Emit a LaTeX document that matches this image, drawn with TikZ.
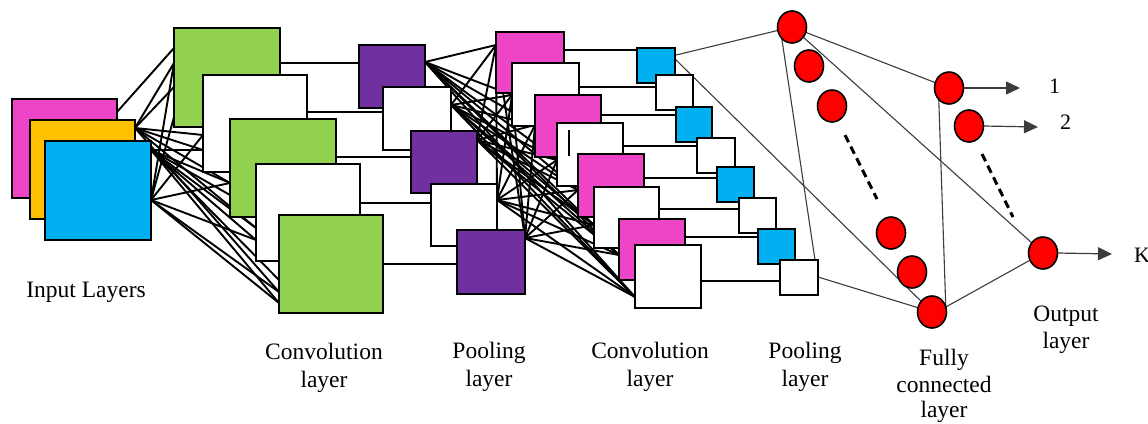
\documentclass[tikz,border=0pt]{standalone}
\usepackage{fontspec}
\setmainfont{Liberation Serif}
\usetikzlibrary{shapes.geometric,arrows.meta,calc}
\pgfdeclarelayer{background}
\pgfsetlayers{background,main}
\definecolor{cmag}{RGB}{238,68,200}
\definecolor{corange}{RGB}{255,192,0}
\definecolor{cblue}{RGB}{0,176,240}
\definecolor{cgreen}{RGB}{146,208,80}
\definecolor{cpurple}{RGB}{112,48,160}
\definecolor{cred}{RGB}{255,0,0}
\definecolor{cthin}{RGB}{60,60,60}
\newcommand\bx[6]{\node[boxst,fill=#2,minimum width={(#5-#3)*1pt},minimum height={(#6-#4)*1pt}] (#1) at ({(#3+#5)/2},{(#4+#6)/2}) {};}
\tikzset{
  boxst/.style={draw=black,line width=2pt,inner sep=0pt,outer sep=0pt},
  neuron/.style={ellipse,draw=black,line width=1.6pt,fill=cred,minimum width=29pt,minimum height=32pt,inner sep=0pt,outer sep=0pt},
  dense/.style={line width=1.9pt,black},
  hlink/.style={line width=2pt,black},
  thinl/.style={line width=1.1pt,cthin},
  dots/.style={line width=3pt,dash pattern=on 8pt off 5pt},
  arr/.style={line width=1.2pt,cthin,-{Triangle[length=14pt,width=13pt]}},
  lbl/.style={font=\fontsize{23.5}{28}\selectfont,anchor=base,inner sep=0pt},
  num/.style={font=\fontsize{22}{26}\selectfont,anchor=base west,inner sep=0pt}
}
\begin{document}
\begin{tikzpicture}[x=1pt,y=-1pt]
\useasboundingbox (0,0) rectangle (1148,423);
% input layers
\bx{imag}{cmag}{12}{99}{117}{198}
\bx{iorg}{corange}{30}{120}{135}{219}
\bx{iblu}{cblue}{45}{141}{151}{240}
% convolution layer 1
\bx{g1}{cgreen}{174}{28}{280}{127}
\bx{w1}{white}{203}{75}{307}{172}
\bx{g2}{cgreen}{230}{119}{336}{217}
\bx{w2}{white}{256}{164}{360}{261}
\bx{g3}{cgreen}{279}{215}{383}{313}
% pooling layer 1
\bx{p1}{cpurple}{359}{45}{425}{108}
\bx{pw1}{white}{383}{87}{451}{150}
\bx{p2}{cpurple}{411}{131}{477}{193}
\bx{pw2}{white}{431}{184}{497}{246}
\bx{p3}{cpurple}{457}{230}{525}{294}
% convolution layer 2
\bx{m1}{cmag}{496}{32}{564}{93}
\bx{cw1}{white}{512}{63}{579}{126}
\bx{m2}{cmag}{535}{95}{601}{157}
\bx{cw2}{white}{557}{123}{623}{186}
\bx{m3}{cmag}{578}{154}{644}{217}
\bx{cw3}{white}{594}{187}{659}{248}
\bx{m4}{cmag}{619}{219}{685}{280}
\bx{cw4}{white}{635}{245}{701}{308}
\draw[line width=2pt] ($(cw2.north west)+(12,7)$) -- ++(0,26);
% pooling layer 2
\bx{pb1}{cblue}{637}{48}{675}{83}
\bx{pw3}{white}{656}{75}{693}{110}
\bx{pb2}{cblue}{676}{107}{712}{142}
\bx{pw5}{white}{697}{138}{735}{173}
\bx{pb3}{cblue}{717}{167}{754}{202}
\bx{pw6}{white}{739}{198}{776}{233}
\bx{pb4}{cblue}{758}{229}{795}{264}
\bx{pw4}{white}{780}{260}{818}{295}
% fully connected neurons
\node[neuron] (c1) at (792,27) {};
\node[neuron] (c2) at (809,66) {};
\node[neuron] (c3) at (832,106) {};
\node[neuron] (c4) at (891,233) {};
\node[neuron] (c5) at (912,272) {};
\node[neuron] (c6) at (932,312) {};
\coordinate (fd1) at (845,135);
\coordinate (fd2) at (877,199);
\draw[dots] (fd1) -- (fd2);
% output neurons
\node[neuron] (o1) at (949,88) {};
\node[neuron] (o2) at (969,126) {};
\node[neuron] (oK) at (1043,253) {};
\coordinate (od1) at (982,154);
\coordinate (od2) at (1013,217);
\draw[dots] (od1) -- (od2);
\coordinate (a1) at (1020,88);
\coordinate (a2) at (1038,127);
\coordinate (aK) at (1112,254);
\node[num] (t1) at (1049,93) {1};
\node[num] (t2) at (1060,129) {2};
\node[num] (tK) at (1134,262) {K};
\draw[arr] (o1.east) -- (a1);
\draw[arr] (o2.east) -- (a2);
\draw[arr] (oK.east) -- (aK);
% labels
\node[lbl] (l1) at (86,297) {Input Layers};
\node[lbl] (l2) at (324,359) {Convolution};
\node[lbl] (l2b) at (324,387) {layer};
\node[lbl] (l3) at (489,358) {Pooling};
\node[lbl] (l3b) at (489,386) {layer};
\node[lbl] (l4) at (650,358) {Convolution};
\node[lbl] (l4b) at (650,386) {layer};
\node[lbl] (l5) at (805,358) {Pooling};
\node[lbl] (l5b) at (805,386) {layer};
\node[lbl] (l6) at (944,365) {Fully};
\node[lbl] (l6b) at (944,392) {connected};
\node[lbl] (l6c) at (944,417) {layer};
\node[lbl] (l7) at (1066,321) {Output};
\node[lbl] (l7b) at (1066,348) {layer};
% connectors behind
\begin{pgfonlayer}{background}
  % input -> conv1
  \coordinate (im) at (imag.east |- 0,112);
  \coordinate (io) at (iorg.east |- 0,128);
  \coordinate (ib1) at (iblu.east |- 0,150);
  \coordinate (ib2) at (iblu.east |- 0,200);
  \coordinate (g1a) at (g1.west |- 0,48);
  \coordinate (g1b) at (g1.west |- 0,63);
  \coordinate (g1c) at (g1.west |- 0,87);
  \coordinate (g1d) at (g1.west |- 0,117);
  \coordinate (w1a) at (w1.west |- 0,135);
  \coordinate (w1b) at (w1.west |- 0,150);
  \coordinate (g2a) at (g2.west |- 0,183);
  \coordinate (g2b) at (g2.west |- 0,195);
  \coordinate (w2a) at (w2.west |- 0,228);
  \coordinate (w2b) at (w2.west |- 0,240);
  \coordinate (g3a) at (g3.west |- 0,280);
  \coordinate (g3b) at (g3.west |- 0,292);
  \coordinate (g3c) at (g3.west |- 0,303);
  \draw[dense] (im) -- (g1a);
  \foreach \t in {g1b,g1c,w1a,w1b,g2a,w2a,g3b} \draw[dense] (io) -- (\t);
  \foreach \t in {w1b,g2a,g2b,w2a,w2b,g3a,g3c} \draw[dense] (ib1) -- (\t);
  \foreach \t in {g1b,g1d,w1a,g2a,w2b,g3b,g3c} \draw[dense] (ib2) -- (\t);
  % conv1 -> pool1
  \draw[hlink] (g1.east |- 0,63) -- (p1.west |- 0,63);
  \draw[hlink] (w1.east |- 0,112) -- (pw1.west |- 0,112);
  \draw[hlink] (g2.east |- 0,157) -- (p2.west |- 0,157);
  \draw[hlink] (w2.east |- 0,203) -- (pw2.west |- 0,203);
  \draw[hlink] (g3.east |- 0,264) -- (p3.west |- 0,264);
  % pool1 -> conv2
  \coordinate (s1) at (p1.east |- 0,62);
  \coordinate (s2) at (pw1.east |- 0,105);
  \coordinate (s3) at (p2.east |- 0,140);
  \coordinate (s4) at (pw2.east |- 0,200);
  \coordinate (s5) at (p3.east |- 0,238);
  \coordinate (t1c) at (m1.west |- 0,45);
  \coordinate (t2c) at (cw1.west |- 0,95);
  \coordinate (t3c) at (m2.west |- 0,125);
  \coordinate (t4c) at (cw2.west |- 0,160);
  \coordinate (t5c) at (m3.west |- 0,190);
  \coordinate (t6c) at (cw3.west |- 0,225);
  \coordinate (t7c) at (m4.west |- 0,255);
  \coordinate (t8c) at (cw4.west |- 0,297);
  \foreach \s in {s1,s2,s3,s4,s5}
    \foreach \t in {t1c,t2c,t3c,t4c,t5c,t6c,t7c,t8c}
      \draw[dense] (\s) -- (\t);
  % conv2 -> pool2
  \draw[hlink] (m1.east |- 0,50) -- (pb1.west |- 0,50);
  \draw[hlink] (cw1.east |- 0,87) -- (pw3.west |- 0,87);
  \draw[hlink] (m2.east |- 0,115) -- (pb2.west |- 0,115);
  \draw[hlink] (cw2.east |- 0,146) -- (pw5.west |- 0,146);
  \draw[hlink] (m3.east |- 0,178) -- (pb3.west |- 0,178);
  \draw[hlink] (cw3.east |- 0,209) -- (pw6.west |- 0,209);
  \draw[hlink] (m4.east |- 0,237) -- (pb4.west |- 0,237);
  \draw[hlink] (cw4.east |- 0,281) -- (pw4.west |- 0,281);
  % pool2 -> fully connected -> output
  \coordinate (pbs) at ($(pb1.east |- 0,56)+(-3,0)$);
  \coordinate (pwt) at ($(pw4.north east)+(-3,0)$);
  \coordinate (pws) at (pw4.east |- 0,277);
  \draw[thinl] (pbs) -- (c1);
  \draw[thinl] (pbs) -- (c6);
  \draw[thinl] (c1.south west) -- (pwt);
  \draw[thinl] (pws) -- (c6);
  \draw[thinl] (c1) -- (o1);
  \draw[thinl] (c1) -- (oK);
  \draw[thinl] (o1.south west) -- (c6.20);
  \draw[thinl] (c6.20) -- (oK);
\end{pgfonlayer}
\end{tikzpicture}
\end{document}
